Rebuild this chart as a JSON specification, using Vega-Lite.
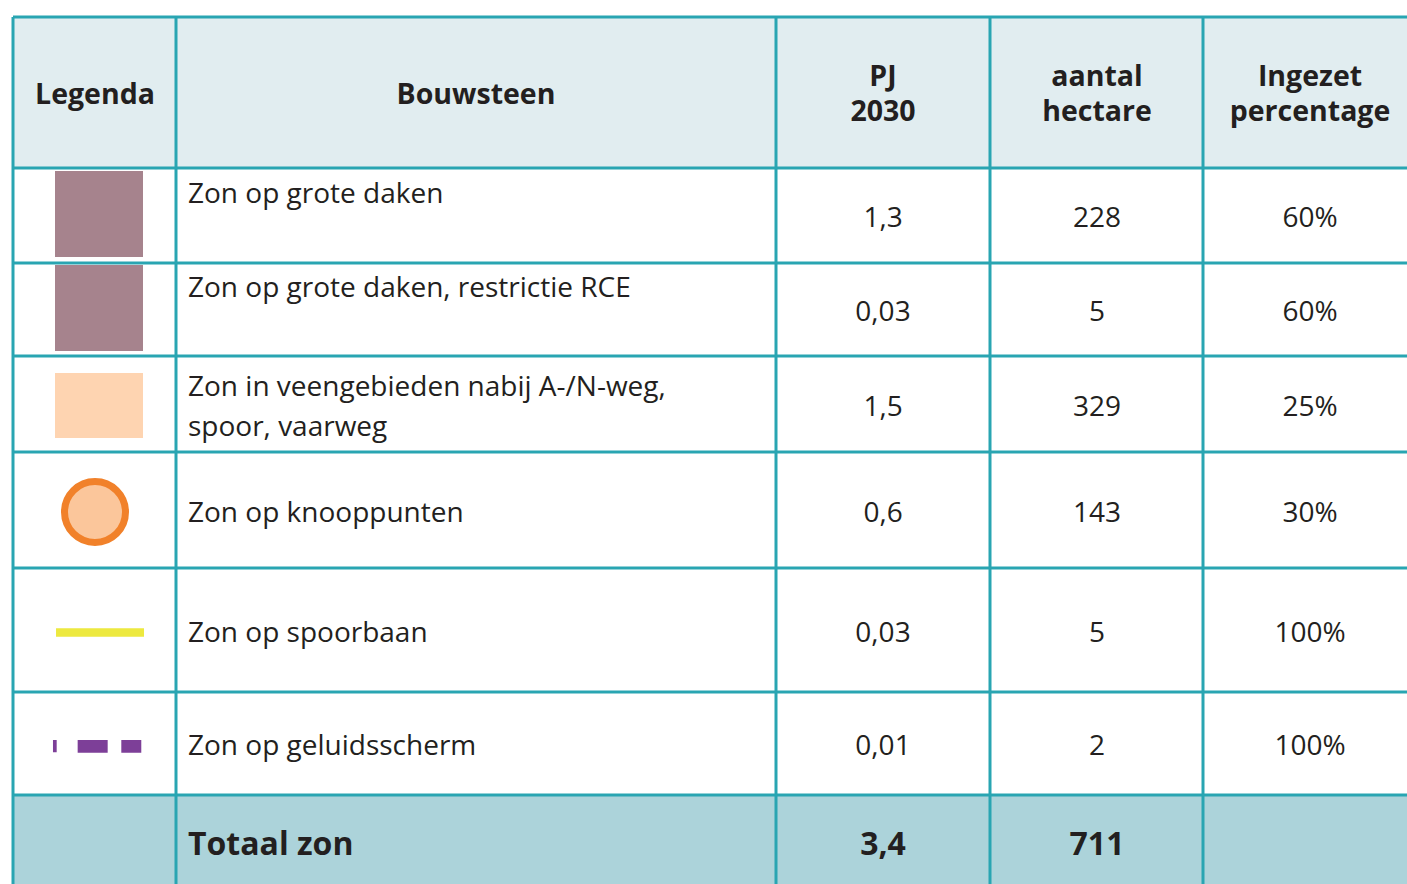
{
  "$schema": "https://vega.github.io/schema/vega-lite/v6.json",
  "width": 1407,
  "height": 884,
  "autosize": {"type": "fit", "contains": "padding"},
  "padding": 0,
  "background": "#ffffff",
  "config": {
    "view": {"stroke": null},
    "locale": {"number": {"decimal": ",", "thousands": ".", "grouping": [3], "currency": ["€ ", ""]}},
    "text": {"font": "Open Sans", "color": "#231f20"}
  },
  "datasets": {
    "banden": [
      {"deel": "kop", "van": 0, "tot": 1},
      {"deel": "inhoud", "van": 1, "tot": 7},
      {"deel": "totaal", "van": 7, "tot": 8}
    ],
    "kolomlijnen": [{"b": 0}, {"b": 1}, {"b": 2}, {"b": 3}, {"b": 4}],
    "rijlijnen": [{"b": 0}, {"b": 1}, {"b": 2}, {"b": 3}, {"b": 4}, {"b": 5}, {"b": 6}, {"b": 7}],
    "kop": [
      {"c": 0, "label": "Legenda"},
      {"c": 1, "label": "Bouwsteen"},
      {"c": 2, "label": "PJ\n2030"},
      {"c": 3, "label": "aantal\nhectare"},
      {"c": 4, "label": "Ingezet\npercentage"}
    ],
    "rijen": [
      {"r": 1, "sym": "dak", "bouwsteen": "Zon op grote daken", "pj": 1.3, "ha": 228, "pct": 0.6},
      {"r": 2, "sym": "dak", "bouwsteen": "Zon op grote daken, restrictie RCE", "pj": 0.03, "ha": 5, "pct": 0.6},
      {"r": 3, "sym": "veen", "bouwsteen": "Zon in veengebieden nabij A-/N-weg,\nspoor, vaarweg", "pj": 1.5, "ha": 329, "pct": 0.25},
      {"r": 4, "sym": "knoop", "bouwsteen": "Zon op knooppunten", "pj": 0.6, "ha": 143, "pct": 0.3},
      {"r": 5, "sym": "spoor", "bouwsteen": "Zon op spoorbaan", "pj": 0.03, "ha": 5, "pct": 1.0},
      {"r": 6, "sym": "scherm", "bouwsteen": "Zon op geluidsscherm", "pj": 0.01, "ha": 2, "pct": 1.0}
    ],
    "totaal": [{"r": 7, "label": "Totaal zon", "pj": 3.4, "ha": 711}]
  },
  "resolve": {"scale": {"x": "independent", "y": "independent", "color": "independent", "shape": "independent"}},
  "layer": [
    {
      "data": {"name": "banden"},
      "mark": {"type": "rect", "strokeWidth": 0},
      "encoding": {
        "x": {"datum": 0, "type": "quantitative", "axis": null, "scale": {"domain": [0, 1, 2, 3, 4, 5], "range": [13, 176, 776, 990, 1203, 1417], "zero": false, "nice": false}},
        "x2": {"datum": 5},
        "y": {"field": "van", "type": "quantitative", "axis": null, "scale": {"domain": [0, 1, 2, 3, 4, 5, 6, 7, 8], "range": [17, 168, 263, 356, 452, 568, 692, 795, 891], "zero": false, "nice": false}},
        "y2": {"field": "tot"},
        "fill": {"field": "deel", "type": "nominal", "legend": null, "scale": {"domain": ["kop", "inhoud", "totaal"], "range": ["#e1edf0", "#ffffff", "#acd3da"]}}
      }
    },
    {
      "data": {"name": "kolomlijnen"},
      "mark": {"type": "rule", "color": "#29a5b2", "strokeWidth": 3},
      "encoding": {
        "x": {"field": "b", "type": "quantitative", "axis": null, "scale": {"domain": [0, 1, 2, 3, 4, 5], "range": [13, 176, 776, 990, 1203, 1417], "zero": false, "nice": false}},
        "y": {"datum": 0, "type": "quantitative", "axis": null, "scale": {"domain": [0, 1, 2, 3, 4, 5, 6, 7, 8], "range": [17, 168, 263, 356, 452, 568, 692, 795, 891], "zero": false, "nice": false}},
        "y2": {"datum": 8}
      }
    },
    {
      "data": {"name": "rijlijnen"},
      "mark": {"type": "rule", "color": "#29a5b2", "strokeWidth": 3},
      "encoding": {
        "y": {"field": "b", "type": "quantitative", "axis": null, "scale": {"domain": [0, 1, 2, 3, 4, 5, 6, 7, 8], "range": [17, 168, 263, 356, 452, 568, 692, 795, 891], "zero": false, "nice": false}},
        "x": {"datum": 0, "type": "quantitative", "axis": null, "scale": {"domain": [0, 1, 2, 3, 4, 5], "range": [13, 176, 776, 990, 1203, 1417], "zero": false, "nice": false}},
        "x2": {"datum": 5}
      }
    },
    {
      "data": {"name": "kop"},
      "transform": [{"filter": "datum.c <= 1"}],
      "mark": {"type": "text", "fontWeight": "bold", "fontSize": 28.5, "align": "center", "baseline": "middle", "dy": 2},
      "encoding": {
        "x": {"field": "c", "type": "quantitative", "axis": null, "scale": {"domain": [0, 1, 2, 3, 4], "range": [95, 476, 883, 1097, 1310], "zero": false, "nice": false}},
        "y": {"datum": 0, "type": "quantitative", "axis": null, "scale": {"domain": [0, 1, 2, 3, 4, 5, 6, 7], "range": [93, 215.5, 309.5, 404, 510, 630, 743.5, 843], "zero": false, "nice": false}},
        "text": {"field": "label"}
      }
    },
    {
      "data": {"name": "kop"},
      "transform": [{"filter": "datum.c >= 2"}],
      "mark": {"type": "text", "fontWeight": "bold", "fontSize": 28.5, "lineBreak": "\n", "lineHeight": 35, "align": "center", "baseline": "middle", "dy": -16},
      "encoding": {
        "x": {"field": "c", "type": "quantitative", "axis": null, "scale": {"domain": [0, 1, 2, 3, 4], "range": [95, 476, 883, 1097, 1310], "zero": false, "nice": false}},
        "y": {"datum": 0, "type": "quantitative", "axis": null, "scale": {"domain": [0, 1, 2, 3, 4, 5, 6, 7], "range": [93, 215.5, 309.5, 404, 510, 630, 743.5, 843], "zero": false, "nice": false}},
        "text": {"field": "label"}
      }
    },
    {
      "data": {"name": "rijen"},
      "transform": [{"filter": "datum.r <= 2"}],
      "mark": {"type": "text", "fontSize": 28, "align": "left", "baseline": "middle", "dx": -288, "dy": -21},
      "encoding": {
        "x": {"datum": 1, "type": "quantitative", "axis": null, "scale": {"domain": [0, 1, 2, 3, 4], "range": [95, 476, 883, 1097, 1310], "zero": false, "nice": false}},
        "y": {"field": "r", "type": "quantitative", "axis": null, "scale": {"domain": [0, 1, 2, 3, 4, 5, 6, 7], "range": [93, 215.5, 309.5, 404, 510, 630, 743.5, 843], "zero": false, "nice": false}},
        "text": {"field": "bouwsteen"}
      }
    },
    {
      "data": {"name": "rijen"},
      "transform": [{"filter": "datum.r == 3"}],
      "mark": {"type": "text", "fontSize": 28, "align": "left", "baseline": "middle", "dx": -288, "dy": -16, "lineBreak": "\n", "lineHeight": 40},
      "encoding": {
        "x": {"datum": 1, "type": "quantitative", "axis": null, "scale": {"domain": [0, 1, 2, 3, 4], "range": [95, 476, 883, 1097, 1310], "zero": false, "nice": false}},
        "y": {"field": "r", "type": "quantitative", "axis": null, "scale": {"domain": [0, 1, 2, 3, 4, 5, 6, 7], "range": [93, 215.5, 309.5, 404, 510, 630, 743.5, 843], "zero": false, "nice": false}},
        "text": {"field": "bouwsteen"}
      }
    },
    {
      "data": {"name": "rijen"},
      "transform": [{"filter": "datum.r > 3"}],
      "mark": {"type": "text", "fontSize": 28, "align": "left", "baseline": "middle", "dx": -288, "dy": 3.5},
      "encoding": {
        "x": {"datum": 1, "type": "quantitative", "axis": null, "scale": {"domain": [0, 1, 2, 3, 4], "range": [95, 476, 883, 1097, 1310], "zero": false, "nice": false}},
        "y": {"field": "r", "type": "quantitative", "axis": null, "scale": {"domain": [0, 1, 2, 3, 4, 5, 6, 7], "range": [93, 215.5, 309.5, 404, 510, 630, 743.5, 843], "zero": false, "nice": false}},
        "text": {"field": "bouwsteen"}
      }
    },
    {
      "data": {"name": "rijen"},
      "mark": {"type": "text", "fontSize": 28, "align": "center", "baseline": "middle", "dy": 3.5},
      "encoding": {
        "x": {"datum": 2, "type": "quantitative", "axis": null, "scale": {"domain": [0, 1, 2, 3, 4], "range": [95, 476, 883, 1097, 1310], "zero": false, "nice": false}},
        "y": {"field": "r", "type": "quantitative", "axis": null, "scale": {"domain": [0, 1, 2, 3, 4, 5, 6, 7], "range": [93, 215.5, 309.5, 404, 510, 630, 743.5, 843], "zero": false, "nice": false}},
        "text": {"field": "pj", "type": "quantitative", "format": "~r"}
      }
    },
    {
      "data": {"name": "rijen"},
      "mark": {"type": "text", "fontSize": 28, "align": "center", "baseline": "middle", "dy": 3.5},
      "encoding": {
        "x": {"datum": 3, "type": "quantitative", "axis": null, "scale": {"domain": [0, 1, 2, 3, 4], "range": [95, 476, 883, 1097, 1310], "zero": false, "nice": false}},
        "y": {"field": "r", "type": "quantitative", "axis": null, "scale": {"domain": [0, 1, 2, 3, 4, 5, 6, 7], "range": [93, 215.5, 309.5, 404, 510, 630, 743.5, 843], "zero": false, "nice": false}},
        "text": {"field": "ha", "type": "quantitative", "format": "d"}
      }
    },
    {
      "data": {"name": "rijen"},
      "mark": {"type": "text", "fontSize": 28, "align": "center", "baseline": "middle", "dy": 3.5},
      "encoding": {
        "x": {"datum": 4, "type": "quantitative", "axis": null, "scale": {"domain": [0, 1, 2, 3, 4], "range": [95, 476, 883, 1097, 1310], "zero": false, "nice": false}},
        "y": {"field": "r", "type": "quantitative", "axis": null, "scale": {"domain": [0, 1, 2, 3, 4, 5, 6, 7], "range": [93, 215.5, 309.5, 404, 510, 630, 743.5, 843], "zero": false, "nice": false}},
        "text": {"field": "pct", "type": "quantitative", "format": ".0%"}
      }
    },
    {
      "data": {"name": "totaal"},
      "mark": {"type": "text", "fontSize": 32, "fontWeight": "bold", "align": "left", "baseline": "middle", "dx": -288, "dy": 1.5},
      "encoding": {
        "x": {"datum": 1, "type": "quantitative", "axis": null, "scale": {"domain": [0, 1, 2, 3, 4], "range": [95, 476, 883, 1097, 1310], "zero": false, "nice": false}},
        "y": {"field": "r", "type": "quantitative", "axis": null, "scale": {"domain": [0, 1, 2, 3, 4, 5, 6, 7], "range": [93, 215.5, 309.5, 404, 510, 630, 743.5, 843], "zero": false, "nice": false}},
        "text": {"field": "label"}
      }
    },
    {
      "data": {"name": "totaal"},
      "mark": {"type": "text", "fontSize": 32, "fontWeight": "bold", "align": "center", "baseline": "middle", "dy": 1.5},
      "encoding": {
        "x": {"datum": 2, "type": "quantitative", "axis": null, "scale": {"domain": [0, 1, 2, 3, 4], "range": [95, 476, 883, 1097, 1310], "zero": false, "nice": false}},
        "y": {"field": "r", "type": "quantitative", "axis": null, "scale": {"domain": [0, 1, 2, 3, 4, 5, 6, 7], "range": [93, 215.5, 309.5, 404, 510, 630, 743.5, 843], "zero": false, "nice": false}},
        "text": {"field": "pj", "type": "quantitative", "format": "~r"}
      }
    },
    {
      "data": {"name": "totaal"},
      "mark": {"type": "text", "fontSize": 32, "fontWeight": "bold", "align": "center", "baseline": "middle", "dy": 1.5},
      "encoding": {
        "x": {"datum": 3, "type": "quantitative", "axis": null, "scale": {"domain": [0, 1, 2, 3, 4], "range": [95, 476, 883, 1097, 1310], "zero": false, "nice": false}},
        "y": {"field": "r", "type": "quantitative", "axis": null, "scale": {"domain": [0, 1, 2, 3, 4, 5, 6, 7], "range": [93, 215.5, 309.5, 404, 510, 630, 743.5, 843], "zero": false, "nice": false}},
        "text": {"field": "ha", "type": "quantitative", "format": "d"}
      }
    },
    {
      "data": {"name": "rijen"},
      "transform": [{"filter": "datum.sym !== 'knoop'"}],
      "mark": {"type": "point", "filled": true, "opacity": 1, "size": 7744, "strokeWidth": 0},
      "encoding": {
        "x": {"datum": 0, "type": "quantitative", "axis": null, "scale": {"domain": [0, 1, 2, 3, 4], "range": [95, 476, 883, 1097, 1310], "zero": false, "nice": false}},
        "y": {"field": "r", "type": "quantitative", "axis": null, "scale": {"domain": [0, 1, 2, 3, 4, 5, 6, 7], "range": [93, 215.5, 309.5, 404, 510, 630, 743.5, 843], "zero": false, "nice": false}},
        "shape": {"field": "sym", "type": "nominal", "legend": null, "scale": {"domain": ["dak", "veen", "spoor", "scherm"], "range": [
          "M-0.909,-1.011L1.091,-1.011L1.091,0.943L-0.909,0.943Z",
          "M-0.909,-0.705L1.091,-0.705L1.091,0.773L-0.909,0.773Z",
          "M-0.886,-0.039L1.114,-0.039L1.114,0.152L-0.886,0.152Z",
          "M-0.955,-0.08L-0.871,-0.08L-0.871,0.2L-0.955,0.2ZM-0.394,-0.08L0.288,-0.08L0.288,0.209L-0.394,0.209ZM0.598,-0.08L1.052,-0.08L1.052,0.209L0.598,0.209Z"
        ]}},
        "color": {"field": "sym", "type": "nominal", "legend": null, "scale": {"domain": ["dak", "veen", "spoor", "scherm"], "range": ["#a6838d", "#fed4b1", "#ede93f", "#7d3f98"]}}
      }
    },
    {
      "data": {"name": "rijen"},
      "transform": [{"filter": "datum.sym === 'knoop'"}],
      "mark": {"type": "point", "shape": "circle", "filled": false, "fill": "#fbc69b", "fillOpacity": 1, "stroke": "#f1812a", "strokeWidth": 7, "strokeOpacity": 1, "size": 3721, "yOffset": 2},
      "encoding": {
        "x": {"datum": 0, "type": "quantitative", "axis": null, "scale": {"domain": [0, 1, 2, 3, 4], "range": [95, 476, 883, 1097, 1310], "zero": false, "nice": false}},
        "y": {"field": "r", "type": "quantitative", "axis": null, "scale": {"domain": [0, 1, 2, 3, 4, 5, 6, 7], "range": [93, 215.5, 309.5, 404, 510, 630, 743.5, 843], "zero": false, "nice": false}}
      }
    }
  ]
}
